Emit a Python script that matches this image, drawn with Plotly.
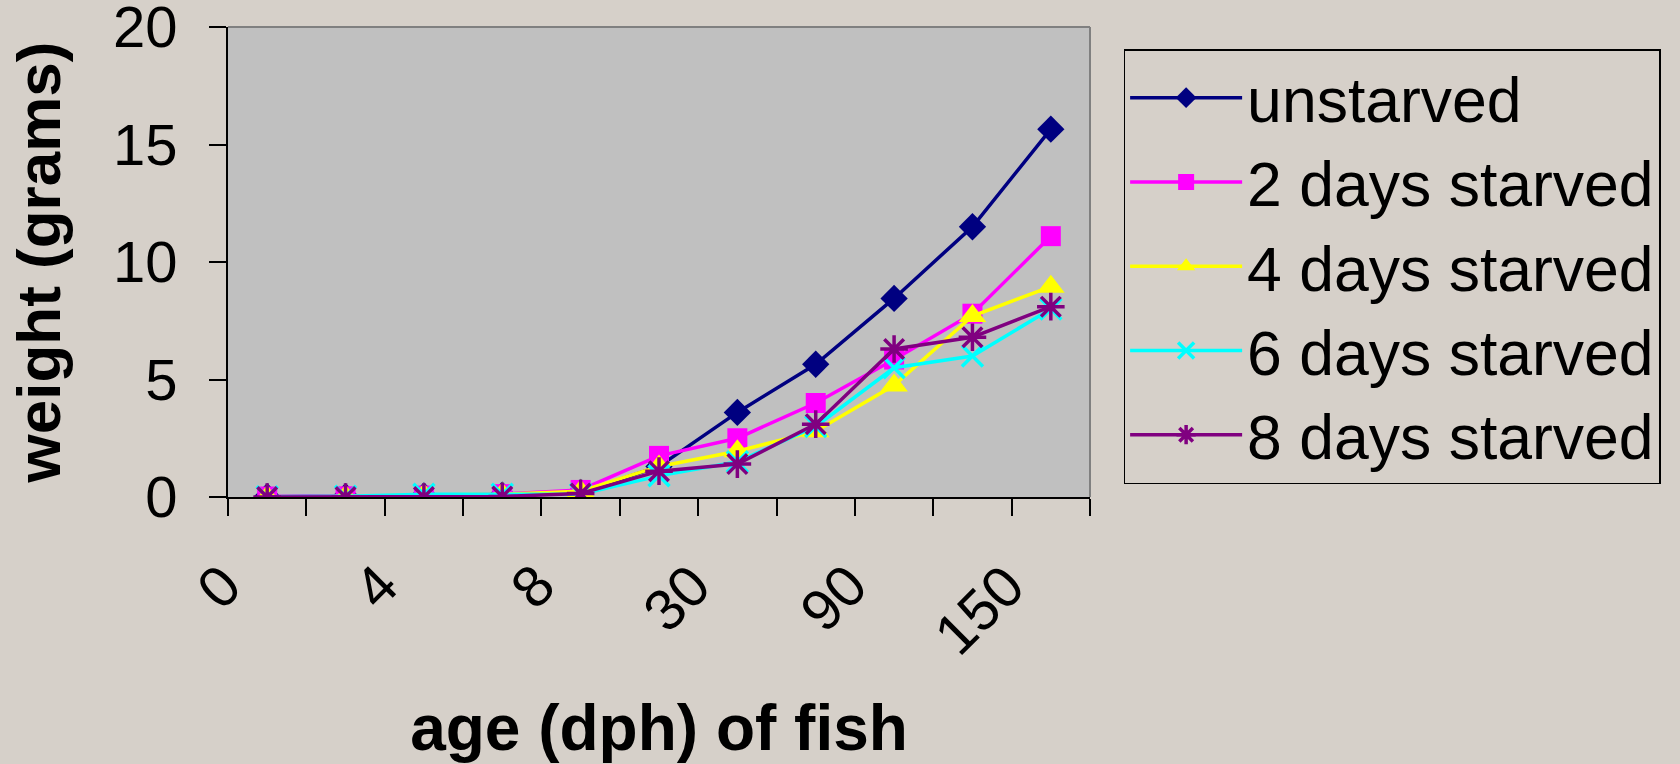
import plotly.graph_objects as go

# ---- data ----
ages = ["0", "2", "4", "6", "8", "15", "30", "60", "90", "120", "150"]
shown_labels = ["0", "4", "8", "30", "90", "150"]

unstarved = [0.01, 0.02, 0.05, 0.08, 0.2, 1.3, 3.6, 5.65, 8.45, 11.5, 15.65]
starved_2 = [0.02, 0.03, 0.06, 0.12, 0.3, 1.75, 2.5, 4.0, 5.85, 7.8, 11.1]
starved_4 = [0.0, 0.02, 0.08, 0.12, 0.25, 1.3, 1.95, 2.8, 4.75, 7.7, 8.95]
starved_6 = [0.01, 0.03, 0.12, 0.12, 0.12, 0.9, 1.5, 3.0, 5.5, 6.0, 8.0]
starved_8 = [0.0, 0.0, 0.0, 0.02, 0.15, 1.1, 1.4, 3.1, 6.3, 6.8, 8.1]

series_names = ["unstarved", "2 days starved", "4 days starved",
                "6 days starved", "8 days starved"]
series_values = [unstarved, starved_2, starved_4, starved_6, starved_8]
series_colors = ["#000080", "#FF00FF", "#FFFF00", "#00FFFF", "#800080"]
series_symbols = ["diamond", "square", "triangle-up", "x-thin-open", "asterisk-open"]
series_sizes = [21, 20, 24, 21, 23]

PAPER = "#D6D0C9"
FONT = "Liberation Sans, Arial, sans-serif"

idx = list(range(len(ages)))

fig = go.Figure()
for name, vals, col, sym, sz in zip(series_names, series_values, series_colors,
                                    series_symbols, series_sizes):
    open_sym = sym.endswith("-open")
    fig.add_trace(go.Scatter(
        x=idx, y=vals, name=name, mode="lines+markers",
        line=dict(color=col, width=3.5),
        marker=dict(symbol=sym, size=sz, color=col,
                    line=dict(color=col, width=3.5 if open_sym else 0)),
    ))

# category labels (every other category shown), rotated like the original
for lab in shown_labels:
    fig.add_annotation(
        x=ages.index(lab), xref="x", y=0, yref="paper",
        text=lab, textangle=-45, showarrow=False,
        xanchor="right", yanchor="top", xshift=-12, yshift=-52,
        font=dict(size=58),
    )

fig.update_layout(
    width=1680, height=764,
    paper_bgcolor=PAPER, plot_bgcolor="#C0C0C0",
    margin=dict(l=228, r=590, t=27, b=267, autoexpand=False),
    font=dict(family=FONT, color="black", size=58),
    showlegend=True,
    legend=dict(
        x=1.039, y=0.953, xanchor="left", yanchor="top",
        bgcolor=PAPER, bordercolor="black", borderwidth=1.5,
        font=dict(size=62.5, family=FONT), itemwidth=112,
        tracegroupgap=0,
    ),
    xaxis=dict(
        range=[-0.5, len(ages) - 0.5],
        tickmode="linear", tick0=-0.5, dtick=1,
        ticks="outside", ticklen=17, tickwidth=1.5, tickcolor="black",
        showticklabels=False,
        automargin=False,
        showgrid=False, zeroline=False,
        showline=True, linecolor="black", linewidth=2,
        title=dict(text="<b>age (dph) of fish</b>", font=dict(size=64), standoff=200),
    ),
    yaxis=dict(
        range=[0, 20], dtick=5, tick0=0,
        ticks="outside", ticklen=17, tickwidth=1.5, tickcolor="black",
        ticklabelstandoff=20,
        ticklabeloverflow="allow",
        automargin=False,
        showgrid=False, zeroline=False,
        showline=True, linecolor="black", linewidth=2,
        title=dict(text="<b>weight (grams)</b>", font=dict(size=62), standoff=32),
    ),
    shapes=[
        dict(type="line", xref="x domain", yref="y domain", x0=0, x1=1, y0=1, y1=1,
             line=dict(color="#808080", width=2)),
        dict(type="line", xref="x domain", yref="y domain", x0=1, x1=1, y0=0, y1=1,
             line=dict(color="#808080", width=2)),
    ],
)

fig.write_html(
    "out.html",
    config=dict(displayModeBar=False),
    post_script="document.body.style.margin='0';document.body.style.overflow='hidden';",
)
